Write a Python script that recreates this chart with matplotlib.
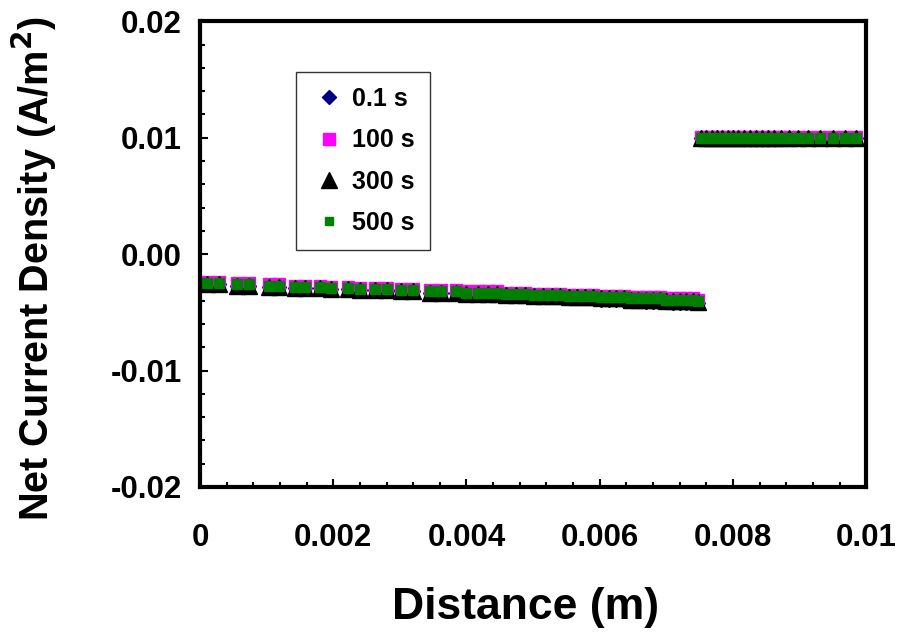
import matplotlib
matplotlib.use("Agg")
import matplotlib.pyplot as plt
from matplotlib.ticker import MultipleLocator, FormatStrFormatter

plt.rcParams['font.family'] = ['Liberation Sans', 'DejaVu Sans']
plt.rcParams['font.weight'] = 'bold'

# node positions (m), coarse near x=0 and x=0.01, fine near the interface
x_left = [0.00010, 0.00028, 0.00055, 0.00073, 0.00103, 0.00118, 0.00143, 0.00158,
          0.00180, 0.00196, 0.00222, 0.00240, 0.00262, 0.00280, 0.00302, 0.00320,
          0.00345, 0.00362, 0.00385, 0.00400, 0.00418, 0.00432, 0.00446, 0.00460,
          0.00474, 0.00488, 0.00502, 0.00515, 0.00528, 0.00541, 0.00554, 0.00566,
          0.00578, 0.00590, 0.00602, 0.00614, 0.00625, 0.00636, 0.00647, 0.00658,
          0.00669, 0.00680, 0.00690, 0.00700, 0.00710, 0.00720, 0.00730, 0.00740,
          0.00748]
x_right = [0.00752, 0.00760, 0.00768, 0.00776, 0.00784, 0.00792, 0.00800, 0.00808,
           0.00816, 0.00825, 0.00834, 0.00843, 0.00852, 0.00862, 0.00872, 0.00884,
           0.00897, 0.00912, 0.00930, 0.00950, 0.00968, 0.00985]
distance = x_left + x_right

# net current density (A/m^2)
j_01s = [-0.0026, -0.0026, -0.0027, -0.0027, -0.0028, -0.0028, -0.0029, -0.0029,
         -0.0029, -0.0030, -0.0030, -0.0031, -0.0031, -0.0031, -0.0032, -0.0032,
         -0.0033, -0.0033, -0.0033, -0.0034, -0.0034, -0.0034, -0.0035, -0.0035,
         -0.0035, -0.0036, -0.0036, -0.0036, -0.0037, -0.0037, -0.0037, -0.0038,
         -0.0038, -0.0038, -0.0039, -0.0039, -0.0039, -0.0040, -0.0040, -0.0040,
         -0.0041, -0.0041, -0.0041, -0.0041, -0.0042, -0.0042, -0.0042, -0.0042,
         -0.0042,
         0.0100, 0.0100, 0.0100, 0.0100, 0.0100, 0.0100, 0.0100, 0.0100,
         0.0100, 0.0100, 0.0100, 0.0100, 0.0100, 0.0100, 0.0100, 0.0100,
         0.0100, 0.0100, 0.0100, 0.0100, 0.0100, 0.0100]
j_100s = [-0.0024, -0.0024, -0.0025, -0.0025, -0.0026, -0.0026, -0.0027, -0.0027,
          -0.0027, -0.0028, -0.0028, -0.0029, -0.0029, -0.0029, -0.0030, -0.0030,
          -0.0031, -0.0031, -0.0031, -0.0032, -0.0032, -0.0032, -0.0032, -0.0033,
          -0.0033, -0.0033, -0.0034, -0.0034, -0.0034, -0.0034, -0.0035, -0.0035,
          -0.0035, -0.0035, -0.0036, -0.0036, -0.0036, -0.0036, -0.0037, -0.0037,
          -0.0037, -0.0037, -0.0037, -0.0038, -0.0038, -0.0038, -0.0038, -0.0038,
          -0.0039,
          0.0101, 0.0101, 0.0101, 0.0101, 0.0101, 0.0101, 0.0101, 0.0101,
          0.0101, 0.0101, 0.0101, 0.0101, 0.0101, 0.0101, 0.0101, 0.0101,
          0.0101, 0.0101, 0.0101, 0.0101, 0.0101, 0.0101]
j_300s = [-0.0026, -0.0026, -0.0027, -0.0027, -0.0028, -0.0028, -0.0029, -0.0029,
          -0.0029, -0.0030, -0.0030, -0.0031, -0.0031, -0.0031, -0.0032, -0.0032,
          -0.0033, -0.0033, -0.0033, -0.0034, -0.0034, -0.0034, -0.0034, -0.0035,
          -0.0035, -0.0035, -0.0036, -0.0036, -0.0036, -0.0036, -0.0037, -0.0037,
          -0.0037, -0.0037, -0.0038, -0.0038, -0.0038, -0.0038, -0.0039, -0.0039,
          -0.0039, -0.0039, -0.0039, -0.0040, -0.0040, -0.0040, -0.0040, -0.0040,
          -0.0041,
          0.0100, 0.0100, 0.0100, 0.0100, 0.0100, 0.0100, 0.0100, 0.0100,
          0.0100, 0.0100, 0.0100, 0.0100, 0.0100, 0.0100, 0.0100, 0.0100,
          0.0100, 0.0100, 0.0100, 0.0100, 0.0100, 0.0100]
j_500s = [-0.0025, -0.0025, -0.0026, -0.0026, -0.0027, -0.0027, -0.0028, -0.0028,
          -0.0028, -0.0029, -0.0029, -0.0030, -0.0030, -0.0030, -0.0031, -0.0031,
          -0.0032, -0.0032, -0.0032, -0.0033, -0.0033, -0.0033, -0.0033, -0.0034,
          -0.0034, -0.0034, -0.0035, -0.0035, -0.0035, -0.0035, -0.0036, -0.0036,
          -0.0036, -0.0036, -0.0037, -0.0037, -0.0037, -0.0037, -0.0038, -0.0038,
          -0.0038, -0.0038, -0.0038, -0.0039, -0.0039, -0.0039, -0.0039, -0.0039,
          -0.0040,
          0.0100, 0.0100, 0.0100, 0.0100, 0.0100, 0.0100, 0.0100, 0.0100,
          0.0100, 0.0100, 0.0100, 0.0100, 0.0100, 0.0100, 0.0100, 0.0100,
          0.0100, 0.0100, 0.0100, 0.0100, 0.0100, 0.0100]

fig = plt.figure(figsize=(8.99, 6.38), dpi=100)
ax = fig.add_axes([0.2225, 0.2367, 0.741, 0.730])

ax.plot(distance, j_01s, linestyle='none', marker='D', markersize=7,
        color='#000080', label='0.1 s')
ax.plot(distance, j_100s, linestyle='none', marker='s', markersize=8.5,
        color='#ff00ff', label='100 s')
ax.plot(distance, j_300s, linestyle='none', marker='^', markersize=11.5,
        color='black', label='300 s')
ax.plot(distance, j_500s, linestyle='none', marker='s', markersize=7,
        color='#008000', label='500 s')

ax.set_xlim(0, 0.01)
ax.set_ylim(-0.02, 0.02)
ax.xaxis.set_major_locator(MultipleLocator(0.002))
ax.xaxis.set_minor_locator(MultipleLocator(0.0004))
ax.yaxis.set_major_locator(MultipleLocator(0.01))
ax.yaxis.set_minor_locator(MultipleLocator(0.002))
ax.yaxis.set_major_formatter(FormatStrFormatter('%.2f'))
ax.set_xticks([0, 0.002, 0.004, 0.006, 0.008, 0.01])
ax.set_xticklabels(['0', '0.002', '0.004', '0.006', '0.008', '0.01'])

ax.tick_params(which='both', direction='in', width=1.5, labelsize=22.5)
ax.tick_params(which='major', length=6)
ax.tick_params(which='minor', length=3.5)
ax.tick_params(axis='x', pad=26)
ax.tick_params(axis='y', pad=13)
for s in ax.spines.values():
    s.set_linewidth(3)

ax.set_xlabel('Distance (m)', fontsize=32, fontweight='bold')
ax.xaxis.set_label_coords(0.488, -0.215)
ax.set_ylabel('Net Current Density (A/m$^\\mathbf{2}$)', fontsize=28.5,
              fontweight='bold')
ax.yaxis.set_label_coords(-0.211, 0.47)

leg = ax.legend(loc='upper left', bbox_to_anchor=(0.144, 0.8906), fontsize=18,
                frameon=True, fancybox=False, handlelength=1.45, handletextpad=0.2,
                labelspacing=0.69, borderpad=0.6, borderaxespad=0, markerscale=1.0)
leg.get_frame().set_edgecolor('black')
leg.get_frame().set_linewidth(1)
leg.legend_handles[3].set_markersize(5.5)

fig.savefig('out.png', dpi=100)
